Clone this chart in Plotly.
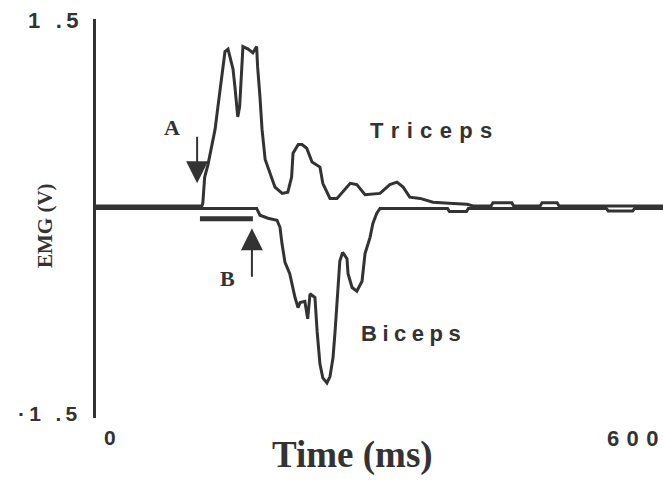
import plotly.graph_objects as go

# ---- data ----
triceps_t = [0, 112, 113, 115, 118.5, 126, 129, 131, 134, 136.5, 139.7, 142, 145, 147, 149, 150,
             152, 154.5, 155.5, 161, 166, 170, 171, 173.5, 175.7, 179, 184, 189.4, 197, 203, 207,
             208.5, 214, 218, 223, 228.6, 237, 240, 247.6, 255, 269, 276, 284.7, 300.5, 311, 318.5,
             325, 332, 343, 356.6, 377.8, 392.6, 399, 418, 420, 440, 442, 470, 472, 488, 490, 600]
triceps_v = [0.01, 0.01, 0.03, 0.24, 0.34, 0.62, 0.80, 0.91, 1.10, 1.24, 1.26, 1.20, 1.10, 0.96,
             0.83, 0.72, 0.80, 1.20, 1.28, 1.26, 1.23, 1.28, 1.12, 0.88, 0.62, 0.38, 0.27, 0.16,
             0.11, 0.12, 0.24, 0.43, 0.50, 0.50, 0.47, 0.36, 0.32, 0.19, 0.07, 0.07, 0.19, 0.18,
             0.10, 0.11, 0.18, 0.20, 0.16, 0.08, 0.07, 0.04, 0.03, 0.024, 0.01, 0.01, 0.035,
             0.035, 0.01, 0.01, 0.035, 0.035, 0.01, 0.01]

biceps_t = [0, 170, 173.5, 182, 191.5, 194.7, 196.8, 200, 205, 210.6, 213.8, 216, 221, 224, 226.5,
            231.7, 234, 237, 240, 244.4, 247.6, 250.8, 253, 256, 258, 261, 265.6, 266.7, 271, 276,
            281.5, 284.7, 290, 293, 297, 300.5, 372, 374, 392, 394, 540, 542, 568, 570, 600]
biceps_v = [-0.01, -0.01, -0.064, -0.088, -0.104, -0.16, -0.29, -0.44, -0.53, -0.72, -0.80,
            -0.76, -0.75, -0.89, -0.69, -0.72, -0.99, -1.25, -1.36, -1.40, -1.35, -1.20, -0.99,
            -0.61, -0.43, -0.36, -0.41, -0.53, -0.64, -0.67, -0.59, -0.37, -0.24, -0.13, -0.05,
            -0.01, -0.01, -0.035, -0.035, -0.01, -0.01, -0.03, -0.03, -0.01, -0.01]

x_range = [0, 600]
y_range = [-1.68, 1.5]
x_tick_labels = ["0", "6\u20040\u20040"]
y_tick_labels = ["1\u2002\u2009.\u20095", "\u00b7\u20091\u2002\u2009.\u20095"]
bar_b_t = [110, 166]
bar_b_v = -0.092

ink = "#333333"
serif = "Liberation Serif"
sans = "Liberation Sans"

fig = go.Figure()
fig.add_trace(go.Scatter(x=triceps_t, y=triceps_v, mode="lines", name="Triceps",
                         line=dict(color=ink, width=3), hoverinfo="skip"))
fig.add_trace(go.Scatter(x=biceps_t, y=biceps_v, mode="lines", name="Biceps",
                         line=dict(color=ink, width=3), hoverinfo="skip"))

fig.add_shape(type="line", xref="x", yref="y", x0=bar_b_t[0], x1=bar_b_t[1],
              y0=bar_b_v, y1=bar_b_v, line=dict(color=ink, width=5))

ann = []
# arrows
ann.append(dict(x=107, y=0.19, xref="x", yref="y", ax=0, ay=-48, text="", showarrow=True,
                arrowhead=2, arrowsize=2.2, arrowwidth=2, arrowcolor=ink, standoff=0))
ann.append(dict(x=165, y=-0.168, xref="x", yref="y", ax=0, ay=50, text="", showarrow=True,
                arrowhead=2, arrowsize=2.2, arrowwidth=2, arrowcolor=ink, standoff=0))


def px(xp, yp):
    return (xp - 96) / 567.0, (418 - yp) / 399.0


def label(text, xp, yp, font, size, xanchor="center", angle=0):
    x, y = px(xp, yp)
    ann.append(dict(x=x, y=y, xref="paper", yref="paper", text=text, showarrow=False,
                    xanchor=xanchor, yanchor="middle", textangle=angle,
                    font=dict(family=font, size=size, color=ink, weight="bold")))


label("A", 172, 127, serif, 22)
label("B", 227, 278, serif, 22)
label("T\u2004r\u2004i\u2004c\u2004e\u2004p\u2004s", 431, 130, sans, 22)
label("B\u2005i\u2005c\u2005e\u2005p\u2005s", 411, 333, sans, 22)
label(x_tick_labels[0], 110, 437, sans, 21)
label(x_tick_labels[1], 632, 438, sans, 22)
label(y_tick_labels[0], 80, 20, sans, 22, xanchor="right")
label(y_tick_labels[1], 80, 413, sans, 21, xanchor="right")
label("Time (ms)", 352, 455, serif, 37)
label("EMG (V)", 45, 226, serif, 21, angle=-90)

fig.update_layout(
    width=663, height=481,
    margin=dict(l=96, r=0, t=19, b=63),
    paper_bgcolor="white", plot_bgcolor="white",
    showlegend=False,
    annotations=ann,
    xaxis=dict(range=x_range, showgrid=False, zeroline=False, showticklabels=False,
               ticks="", showline=False, fixedrange=True),
    yaxis=dict(range=y_range, showgrid=False, zeroline=False, showticklabels=False,
               ticks="", showline=True, linewidth=3, linecolor=ink, fixedrange=True),
)

fig.write_html("out.html")
